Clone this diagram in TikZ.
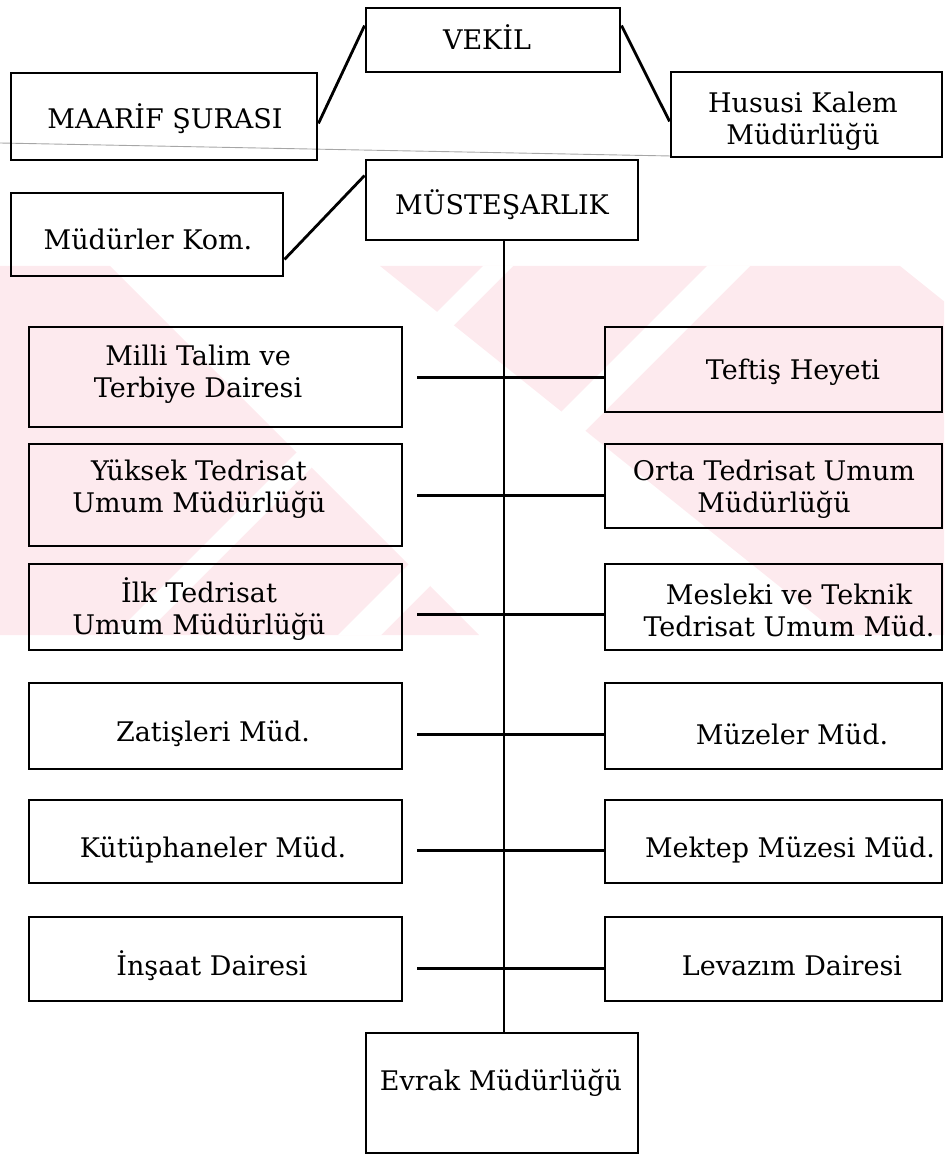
\documentclass[tikz,border=0pt]{standalone}
\usepackage{fontspec}
\setmainfont{DejaVu Serif}
\usetikzlibrary{fit,calc}
\definecolor{wm}{RGB}{253,234,238}
\begin{document}
\begin{tikzpicture}[x=1pt,y=-1pt,
  box/.style={draw, line width=2.9pt, inner sep=0pt},
  lbl/.style={align=center, inner sep=0pt, font=\fontsize{27}{32}\selectfont},
  conn/.style={line width=3pt},
  trunk/.style={line width=2.3pt},
  slant/.style={line width=2.8pt}]
\useasboundingbox (0,0) rectangle (944,1155);
% faint watermark
\begin{scope}
\clip (0,266) rectangle (944,635);
\fill[wm] (0,266) -- (110,266) -- (479,635) -- (0,635) -- cycle;
\fill[wm] (380,266) -- (900,266) -- (1360,635) -- (840,635) -- cycle;
\fill[white] (483,266) -- (513,266) -- (144,635) -- (114,635) -- cycle;
\fill[white] (707,266) -- (750,266) -- (381,635) -- (338,635) -- cycle;
\end{scope}
% scan line
\draw[gray!70, line width=0.9pt] (0,143) -- (671,156);
% boxes
\node[box, fit={(366,8) (620,72)}] (vekil) {};
\node[box, fit={(11,73) (317,160)}] (maarif) {};
\node[box, fit={(671,72) (942,157)}] (hususi) {};
\node[box, fit={(366,160) (638,240)}] (must) {};
\node[box, fit={(11,193) (283,276)}] (mudurler) {};
\node[box, fit={(29,327) (402,427)}] (milli) {};
\node[box, fit={(29,444) (402,546)}] (yuksek) {};
\node[box, fit={(29,564) (402,650)}] (ilk) {};
\node[box, fit={(29,683) (402,769)}] (zat) {};
\node[box, fit={(29,800) (402,883)}] (kut) {};
\node[box, fit={(29,917) (402,1001)}] (insaat) {};
\node[box, fit={(605,327) (942,412)}] (teftis) {};
\node[box, fit={(605,444) (942,528)}] (orta) {};
\node[box, fit={(605,564) (942,650)}] (mesleki) {};
\node[box, fit={(605,683) (942,769)}] (muzeler) {};
\node[box, fit={(605,800) (942,883)}] (mektep) {};
\node[box, fit={(605,917) (942,1001)}] (levazim) {};
\node[box, fit={(366,1033) (638,1153)}] (evrak) {};
% labels
\node[lbl] (t-vekil) at (487,37) {VEKİL};
\node[lbl] (t-maarif) at (165,119) {MAARİF ŞURASI};
\node[lbl] (t-hususi) at (803,121) {Hususi Kalem\\Müdürlüğü};
\node[lbl] (t-must) at (502,205) {MÜSTEŞARLIK};
\node[lbl] (t-mudurler) at (148,239) {Müdürler Kom.};
\node[lbl] (t-milli) at (198,374) {Milli Talim ve\\Terbiye Dairesi};
\node[lbl] (t-yuksek) at (199,489) {Yüksek Tedrisat\\Umum Müdürlüğü};
\node[lbl] (t-ilk) at (199,609) {İlk Tedrisat\\Umum Müdürlüğü};
\node[lbl] (t-zat) at (213,734) {Zatişleri Müd.};
\node[lbl] (t-kut) at (213,850) {Kütüphaneler Müd.};
\node[lbl] (t-insaat) at (212,966) {İnşaat Dairesi};
\node[lbl] (t-teftis) at (793,372) {Teftiş Heyeti};
\node[lbl] (t-orta) at (774,489) {Orta Tedrisat Umum\\Müdürlüğü};
\node[lbl] (t-mesleki) at (789,610) {Mesleki ve Teknik\\Tedrisat Umum Müd.};
\node[lbl] (t-muzeler) at (792,734) {Müzeler Müd.};
\node[lbl] (t-mektep) at (790,850) {Mektep Müzesi Müd.};
\node[lbl] (t-levazim) at (792,966) {Levazım Dairesi};
\node[lbl] (t-evrak) at (501,1083) {Evrak Müdürlüğü};
% slanted connectors
\draw[slant] ([yshift=-19pt]vekil.north west) -- ([yshift=38pt]maarif.south east);
\draw[slant] ([yshift=-19pt]vekil.north east) -- ([yshift=37pt]hususi.south west);
\draw[slant] ([yshift=-17pt]must.north west) -- ([yshift=18pt]mudurler.south east);
% trunk
\draw[trunk] (must.south -| 504,0) -- (evrak.north -| 504,0);
% horizontal connectors
\coordinate (h1) at (417,377);
\coordinate (h2) at (417,495);
\coordinate (h3) at (417,614);
\coordinate (h4) at (417,734);
\coordinate (h5) at (417,850);
\coordinate (h6) at (417,968);
\draw[conn] (h1) -- (h1 -| teftis.west);
\draw[conn] (h2) -- (h2 -| orta.west);
\draw[conn] (h3) -- (h3 -| mesleki.west);
\draw[conn] (h4) -- (h4 -| muzeler.west);
\draw[conn] (h5) -- (h5 -| mektep.west);
\draw[conn] (h6) -- (h6 -| levazim.west);
\end{tikzpicture}
\end{document}
